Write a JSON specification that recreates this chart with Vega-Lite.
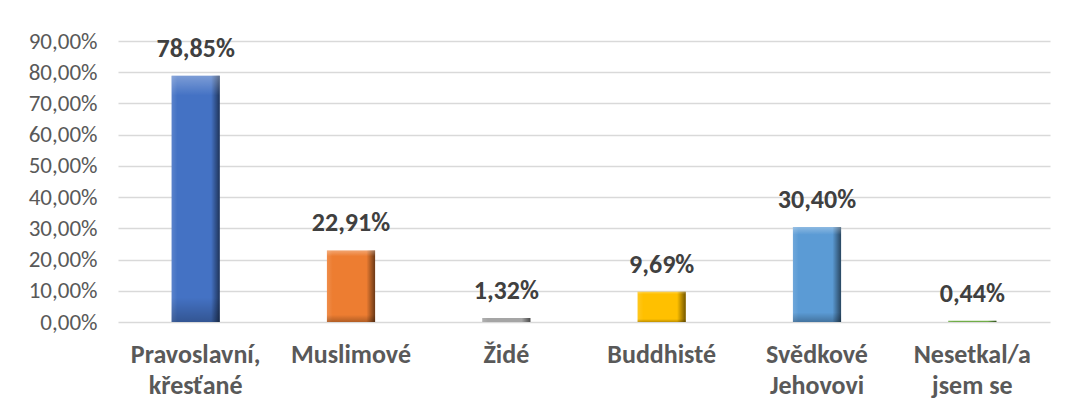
{
  "$schema": "https://vega.github.io/schema/vega-lite/v6.json",
  "autosize": {"type": "none"},
  "width": 932,
  "height": 281,
  "padding": {"left": 118, "top": 41, "right": 18, "bottom": 92},
  "background": "white",
  "config": {
    "locale": {"number": {"decimal": ",", "thousands": " ", "grouping": [3], "currency": ["", ""]}},
    "view": {"stroke": null},
    "font": "Carlito, Lato, sans-serif"
  },
  "data": {
    "values": [
      {"kategorie": "Pravoslavní,\nkřesťané", "podil": 0.7885, "barva": "#4472c4"},
      {"kategorie": "Muslimové", "podil": 0.2291, "barva": "#ed7d31"},
      {"kategorie": "Židé", "podil": 0.0132, "barva": "#a5a5a5"},
      {"kategorie": "Buddhisté", "podil": 0.0969, "barva": "#ffc000"},
      {"kategorie": "Svědkové\nJehovovi", "podil": 0.304, "barva": "#5b9bd5"},
      {"kategorie": "Nesetkal/a\njsem se", "podil": 0.0044, "barva": "#70ad47"}
    ]
  },
  "encoding": {
    "x": {
      "field": "kategorie", "type": "nominal", "sort": null,
      "scale": {"paddingInner": 0.69, "paddingOuter": 0.345},
      "axis": {
        "title": null, "labelAngle": 0, "ticks": false, "domain": false,
        "labelExpr": "split(datum.label, '\\n')",
        "labelFont": "Carlito, Lato, sans-serif", "labelFontSize": 26, "labelFontWeight": "bold",
        "labelColor": "#595959", "labelPadding": 19, "labelLineHeight": 31, "labelBaseline": "top",
        "labelOverlap": false
      }
    },
    "y": {
      "field": "podil", "type": "quantitative",
      "scale": {"domain": [0, 0.9], "nice": false},
      "axis": {
        "title": null, "format": ".2%", "values": [0, 0.1, 0.2, 0.3, 0.4, 0.5, 0.6, 0.7, 0.8, 0.9],
        "ticks": false, "domain": false, "gridColor": "#d9d9d9", "gridWidth": 1.3,
        "labelOverlap": false,
        "labelFont": "Carlito, Lato, sans-serif", "labelFontSize": 23, "labelColor": "#595959", "labelPadding": 21
      }
    }
  },
  "layer": [
    {
      "mark": {"type": "bar", "strokeWidth": 1},
      "encoding": {
        "color": {"field": "barva", "type": "nominal", "scale": null, "legend": null}
      }
    },
    {
      "mark": {
        "type": "bar",
        "color": {
          "gradient": "linear", "x1": 0, "x2": 1, "y1": 0, "y2": 0,
          "stops": [
            {"offset": 0, "color": "rgba(255,255,255,0.12)"},
            {"offset": 0.12, "color": "rgba(255,255,255,0)"},
            {"offset": 0.82, "color": "rgba(0,0,0,0)"},
            {"offset": 1, "color": "rgba(0,0,0,0.55)"}
          ]
        }
      }
    },
    {
      "mark": {
        "type": "bar",
        "color": {
          "gradient": "linear", "x1": 0, "x2": 0, "y1": 0, "y2": 1,
          "stops": [
            {"offset": 0, "color": "rgba(255,255,255,0.3)"},
            {"offset": 0.08, "color": "rgba(255,255,255,0)"},
            {"offset": 0.9, "color": "rgba(0,0,0,0)"},
            {"offset": 1, "color": "rgba(0,0,0,0.25)"}
          ]
        }
      }
    },
    {
      "mark": {
        "type": "text", "baseline": "bottom", "dy": -14,
        "font": "Carlito, Lato, sans-serif", "fontSize": 26, "fontWeight": "bold", "color": "#404040"
      },
      "encoding": {
        "text": {"field": "podil", "type": "quantitative", "format": ".2%"}
      }
    }
  ]
}
